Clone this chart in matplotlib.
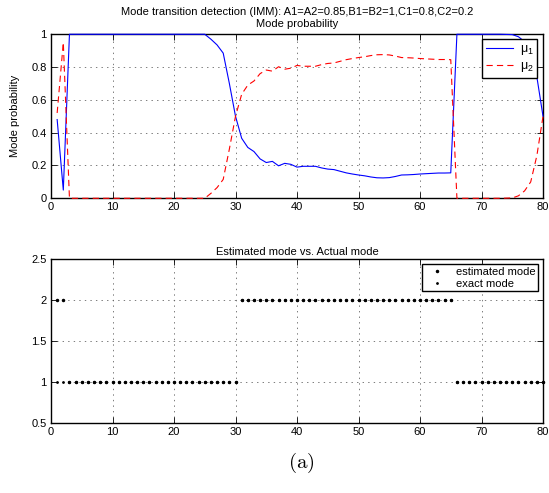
import numpy as np
import matplotlib
matplotlib.use('Agg')
from matplotlib import pyplot as plt
from matplotlib.ticker import FuncFormatter

plt.rcParams['font.family'] = ['Liberation Sans', 'DejaVu Sans']
plt.rcParams['mathtext.fontset'] = 'custom'
plt.rcParams['mathtext.rm'] = 'Liberation Sans'
plt.rcParams['mathtext.it'] = 'Liberation Sans'
plt.rcParams['lines.scale_dashes'] = False

# time steps
k = np.arange(1, 81)

# mode probabilities
mu1 = [0.48, 0.05,
       1.0, 1.0, 1.0, 1.0, 1.0, 1.0, 1.0, 1.0, 1.0, 1.0, 1.0, 1.0,
       1.0, 1.0, 1.0, 1.0, 1.0, 1.0, 1.0, 1.0, 1.0, 1.0, 1.0,
       0.97, 0.935, 0.885, 0.70, 0.50, 0.366, 0.31, 0.285, 0.24, 0.218,
       0.225, 0.198, 0.213, 0.207, 0.19, 0.195, 0.195, 0.195, 0.185, 0.178,
       0.175, 0.165, 0.155, 0.148, 0.142, 0.137, 0.13, 0.125, 0.124, 0.126,
       0.133, 0.142, 0.143, 0.145, 0.148, 0.15, 0.152, 0.154, 0.154, 0.155,
       1.0, 1.0, 1.0, 1.0, 1.0, 1.0, 1.0, 1.0, 0.999, 0.998,
       0.985, 0.955, 0.90, 0.74, 0.50]
mu2 = [0.52, 0.95,
       0.0, 0.0, 0.0, 0.0, 0.0, 0.0, 0.0, 0.0, 0.0, 0.0, 0.0, 0.0,
       0.0, 0.0, 0.0, 0.0, 0.0, 0.0, 0.0, 0.0, 0.0, 0.0, 0.0,
       0.03, 0.065, 0.115, 0.30, 0.50, 0.634, 0.69, 0.715, 0.76, 0.782,
       0.775, 0.802, 0.787, 0.793, 0.81, 0.805, 0.805, 0.805, 0.815, 0.822,
       0.825, 0.835, 0.845, 0.852, 0.858, 0.863, 0.87, 0.875, 0.876, 0.874,
       0.867, 0.858, 0.857, 0.855, 0.852, 0.85, 0.848, 0.846, 0.846, 0.845,
       0.0, 0.0, 0.0, 0.0, 0.0, 0.0, 0.0, 0.0, 0.001, 0.002,
       0.015, 0.045, 0.10, 0.26, 0.50]

# estimated vs exact mode
est_mode = [2, 2,
            1, 1, 1, 1, 1, 1, 1, 1, 1, 1, 1, 1, 1, 1, 1, 1, 1, 1,
            1, 1, 1, 1, 1, 1, 1, 1, 1, 1,
            2, 2, 2, 2, 2, 2, 2, 2, 2, 2, 2, 2, 2, 2, 2, 2, 2, 2,
            2, 2, 2, 2, 2, 2, 2, 2, 2, 2, 2, 2, 2, 2, 2, 2, 2,
            1, 1, 1, 1, 1, 1, 1, 1, 1, 1, 1, 1, 1, 1, 1]
exact_mode = [1, 1,
              1, 1, 1, 1, 1, 1, 1, 1, 1, 1, 1, 1, 1, 1, 1, 1, 1, 1,
              1, 1, 1, 1, 1, 1, 1, 1, 1, 1,
              2, 2, 2, 2, 2, 2, 2, 2, 2, 2, 2, 2, 2, 2, 2, 2, 2, 2,
              2, 2, 2, 2, 2, 2, 2, 2, 2, 2, 2, 2, 2, 2, 2, 2, 2,
              1, 1, 1, 1, 1, 1, 1, 1, 1, 1, 1, 1, 1, 1, 1]

fs = 8


def styleAxes(ax):
    ax.tick_params(direction='in', top=True, right=True, length=4,
                   width=0.6, labelsize=fs, pad=3)
    for s in ax.spines.values():
        s.set_linewidth(1.0)
    ax.grid(True, linestyle=(0, (1, 3)), color='0.4', linewidth=0.6)
    ax.set_axisbelow(True)
    ax.xaxis.set_major_formatter(FuncFormatter(lambda v, p: '%g' % v))
    ax.yaxis.set_major_formatter(FuncFormatter(lambda v, p: '%g' % v))


fig = plt.figure(figsize=(5.49, 4.93), dpi=100)

# top: mode probabilities
ax1 = fig.add_axes([0.0929, 0.5978, 0.8962, 0.3327])
ax1.plot(k, mu1, color='#0000ff', linewidth=0.8, label=r'$\mu_1$',
         zorder=3, clip_on=False)
ax1.plot(k, mu2, color='#ff0000', linewidth=0.8, linestyle='--',
         dashes=(4.5, 3), label=r'$\mu_2$', zorder=3, clip_on=False)
ax1.set_xlim(0, 80)
ax1.set_ylim(0, 1)
ax1.set_xticks(np.arange(0, 81, 10))
ax1.set_yticks(np.arange(0, 1.01, 0.2))
styleAxes(ax1)
ax1.set_ylabel('Mode probability', fontsize=fs, labelpad=8)
ax1.set_title('Mode transition detection (IMM): A1=A2=0.85,B1=B2=1,C1=0.8,C2=0.2\nMode probability',
              fontsize=fs, pad=5, linespacing=1.3)
leg1 = ax1.legend(loc='upper right', bbox_to_anchor=(0.988, 0.97),
                  fontsize=fs + 1, fancybox=False, framealpha=1,
                  edgecolor='black', handlelength=2.2, borderpad=0.3,
                  labelspacing=0.25, handletextpad=0.5, borderaxespad=0)
leg1.get_frame().set_linewidth(1.0)
leg1.set_zorder(5)

# bottom: estimated vs actual mode
ax2 = fig.add_axes([0.0929, 0.1414, 0.8962, 0.3327])
ax2.plot(k, est_mode, linestyle='none', marker='.', markersize=3,
         color='black', label='estimated mode', zorder=3, clip_on=False)
ax2.plot(k, exact_mode, linestyle='none', marker='.', markersize=2,
         color='black', label='exact mode', zorder=3, clip_on=False)
ax2.set_xlim(0, 80)
ax2.set_ylim(0.5, 2.5)
ax2.set_xticks(np.arange(0, 81, 10))
ax2.set_yticks(np.arange(0.5, 2.51, 0.5))
styleAxes(ax2)
ax2.set_title('Estimated mode vs. Actual mode', fontsize=fs, pad=3)
leg2 = ax2.legend(loc='upper right', bbox_to_anchor=(0.99, 0.97),
                  fontsize=fs, fancybox=False, framealpha=1,
                  edgecolor='black', numpoints=1, handlelength=2.2,
                  borderpad=0.25, labelspacing=0.15, handletextpad=0.6,
                  borderaxespad=0)
leg2.get_frame().set_linewidth(1.0)
leg2.set_zorder(5)

fig.text(0.548, 0.06, r'$\mathrm{(a)}$', fontsize=15, ha='center',
         va='center', math_fontfamily='cm')

plt.savefig('out.png', dpi=100)
